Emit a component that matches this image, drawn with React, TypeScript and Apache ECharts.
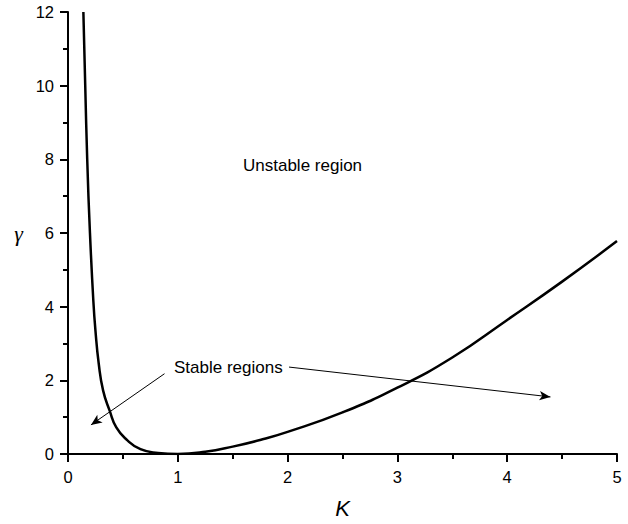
import React, { useEffect, useRef } from "react";
import * as echarts from "echarts";

// Curve gamma(K)
const kValues = [0.14, 0.157, 0.175, 0.2, 0.23, 0.25, 0.28, 0.32, 0.38, 0.44, 0.53, 0.66, 0.82, 1.0, 1.25, 1.5, 1.75, 2.0, 2.5, 3.0, 3.5, 4.0, 4.5, 5.0];
const gammaValues = [12, 10, 8, 6, 4.2, 3.35, 2.45, 1.72, 1.17, 0.72, 0.4, 0.13, 0.03, 0, 0.06, 0.2, 0.38, 0.6, 1.13, 1.8, 2.62, 3.64, 4.68, 5.78];

// Annotation arrows (data coordinates: [start, end])
const arrowLeft = [[0.879, 2.18], [0.209, 0.79]];
const arrowRight = [[2.013, 2.36], [4.394, 1.55]];

const labelUnstable = "Unstable region";
const labelStable = "Stable regions";

export default function App() {
  const ref = useRef<HTMLDivElement>(null);
  useEffect(() => {
    if (!ref.current) return;
    const chart = echarts.init(ref.current, null, { renderer: "svg" });
    const data = kValues.map((k, i) => [k, gammaValues[i]]);
    const axisCommon = {
      axisLine: { show: true, onZero: false, lineStyle: { color: "#000", width: 2 } },
      axisTick: { show: true, inside: false, length: 8, lineStyle: { color: "#000", width: 2 } },
      minorTick: { show: true, splitNumber: 2, length: 5, lineStyle: { color: "#000", width: 2 } },
      splitLine: { show: false },
      minorSplitLine: { show: false },
      axisLabel: { color: "#000", fontSize: 16.5, fontFamily: "Liberation Sans, Arial, sans-serif", margin: 14 },
    };
    chart.setOption({
      animation: false,
      backgroundColor: "#fff",
      grid: { left: 68, right: 11, top: 12, bottom: 68, containLabel: false },
      xAxis: {
        type: "value",
        min: 0,
        max: 5,
        interval: 1,
        name: "K",
        nameLocation: "middle",
        nameGap: 43,
        nameTextStyle: { color: "#000", fontSize: 22, fontStyle: "italic", fontFamily: "Liberation Sans, Arial, sans-serif" },
        ...axisCommon,
      },
      yAxis: {
        type: "value",
        min: 0,
        max: 12,
        interval: 2,
        name: "γ",
        nameLocation: "middle",
        nameRotate: 0,
        nameGap: 45,
        nameTextStyle: { color: "#000", fontSize: 22, fontStyle: "italic", fontFamily: "Liberation Serif, Times New Roman, serif" },
        ...axisCommon,
      },
      series: [
        {
          type: "line",
          data,
          smooth: 0.5,
          showSymbol: false,
          lineStyle: { color: "#000", width: 2.5 },
          silent: true,
          markLine: {
            silent: true,
            symbol: ["none", "arrow"],
            symbolSize: [7, 11],
            label: { show: false },
            lineStyle: { color: "#000", width: 1, type: "solid" },
            data: [
              [{ coord: arrowLeft[0] }, { coord: arrowLeft[1] }],
              [{ coord: arrowRight[0] }, { coord: arrowRight[1] }],
            ],
          },
        },
      ],
      graphic: [
        {
          type: "text",
          left: 243,
          top: 157,
          style: { text: labelUnstable, fill: "#000", fontSize: 17, fontFamily: "Liberation Sans, Arial, sans-serif" },
        },
        {
          type: "text",
          left: 174,
          top: 359,
          style: { text: labelStable, fill: "#000", fontSize: 17, fontFamily: "Liberation Sans, Arial, sans-serif" },
        },
      ],
    });
    return () => chart.dispose();
  }, []);
  return <div ref={ref} style={{ position: "fixed", left: 0, top: 0, width: 628, height: 524 }} />;
}
